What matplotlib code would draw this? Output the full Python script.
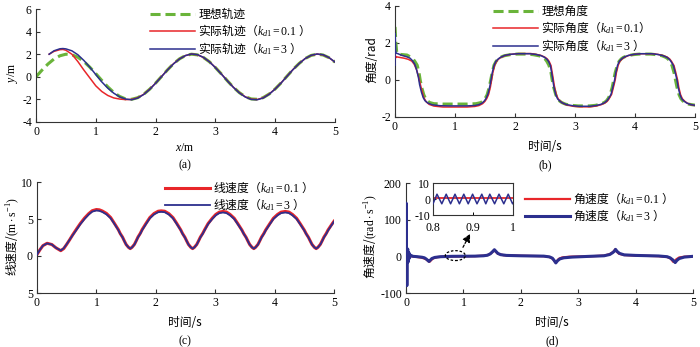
import matplotlib
matplotlib.use("Agg")
import matplotlib.pyplot as plt
from matplotlib.patches import Ellipse
from matplotlib.font_manager import FontProperties

plt.rcParams['font.family'] = ['Liberation Serif', 'Noto Sans CJK SC']
plt.rcParams['mathtext.fontset'] = 'custom'
plt.rcParams['mathtext.rm'] = 'Liberation Serif'
plt.rcParams['mathtext.it'] = 'Liberation Serif:italic'
plt.rcParams['mathtext.sf'] = 'Liberation Serif'
plt.rcParams['mathtext.bf'] = 'Liberation Serif:bold'
plt.rcParams['axes.unicode_minus'] = False

GREEN = '#6ab43a'
RED = '#e8262a'
BLUE = '#2c2f8e'

# ---------------- (a) trajectory ----------------
xa_ideal = [0, 0.1, 0.2, 0.3, 0.4, 0.5, 0.6, 0.7, 0.8, 0.9, 1.0, 1.1, 1.2, 1.3, 1.4, 1.5, 1.6, 1.7, 1.8, 1.9,
            2.0, 2.1, 2.2, 2.3, 2.4, 2.5, 2.6, 2.7, 2.8, 2.9, 3.0, 3.1, 3.2, 3.3, 3.4, 3.5, 3.6, 3.7, 3.8, 3.9,
            4.0, 4.1, 4.2, 4.3, 4.4, 4.5, 4.6, 4.7, 4.8, 4.9, 5.0]
ya_ideal = [0, 0.59, 1.13, 1.57, 1.86, 2.00, 1.95, 1.73, 1.35, 0.85, 0.28, -0.32, -0.89, -1.38, -1.74, -1.96,
            -1.99, -1.85, -1.55, -1.10, -0.56, 0.03, 0.62, 1.16, 1.59, 1.88, 2.00, 1.94, 1.71, 1.33, 0.82, 0.25,
            -0.35, -0.92, -1.40, -1.76, -1.96, -1.99, -1.84, -1.52, -1.07, -0.53, 0.07, 0.66, 1.18, 1.61, 1.89,
            2.00, 1.93, 1.69, 1.30]
xa_red = [0.22, 0.3, 0.4, 0.45, 0.5, 0.6, 0.7, 0.8, 0.9, 1.0, 1.1, 1.2, 1.3, 1.4, 1.5, 1.6, 1.7, 1.8, 1.9,
          2.0, 2.1, 2.2, 2.3, 2.4, 2.5, 2.6, 2.7, 2.8, 2.9, 3.0, 3.1, 3.2, 3.3, 3.4, 3.5, 3.6, 3.7, 3.8, 3.9,
          4.0, 4.1, 4.2, 4.3, 4.4, 4.5, 4.6, 4.7, 4.8, 4.9, 5.0]
ya_red = [2.0, 2.25, 2.4, 2.42, 2.35, 2.0, 1.35, 0.6, -0.1, -0.8, -1.3, -1.65, -1.87, -1.97, -2.02, -2.0,
          -1.86, -1.55, -1.10, -0.56, 0.03, 0.62, 1.16, 1.59, 1.88, 2.01, 1.95, 1.71, 1.33, 0.82, 0.25,
          -0.35, -0.92, -1.40, -1.77, -1.98, -2.01, -1.85, -1.52, -1.07, -0.53, 0.07, 0.66, 1.18, 1.61, 1.89,
          2.01, 1.94, 1.69, 1.30]
xa_blue = xa_red
ya_blue = [2.0, 2.3, 2.48, 2.5, 2.47, 2.3, 1.95, 1.45, 0.85, 0.2, -0.45, -1.0, -1.45, -1.78, -1.97, -2.03,
           -1.88, -1.57, -1.12, -0.57, 0.02, 0.61, 1.15, 1.58, 1.88, 2.02, 1.96, 1.72, 1.33, 0.81, 0.24,
           -0.36, -0.93, -1.42, -1.79, -2.0, -2.03, -1.87, -1.54, -1.08, -0.54, 0.06, 0.65, 1.17, 1.61, 1.90,
           2.02, 1.95, 1.70, 1.30]

# ---------------- (b) angle ----------------
tb_ideal = [0, 0.015, 0.03, 0.1, 0.2, 0.27, 0.30, 0.33, 0.37, 0.40, 0.42, 0.445, 0.48, 0.51, 0.545, 0.58, 0.65,
            0.8, 1.2, 1.35, 1.43, 1.465, 1.5, 1.535, 1.57, 1.595, 1.62, 1.65, 1.685, 1.72, 1.75, 1.82, 1.92,
            2.02, 2.2, 2.3, 2.4, 2.465, 2.5, 2.53, 2.565, 2.6, 2.62, 2.645, 2.68, 2.71, 2.745, 2.78, 2.845,
            2.945, 3.05, 3.24, 3.34, 3.42, 3.485, 3.52, 3.55, 3.585, 3.62, 3.645, 3.67, 3.705, 3.735, 3.77,
            3.805, 3.87, 3.97, 4.07, 4.26, 4.35, 4.45, 4.515, 4.55, 4.58, 4.615, 4.65, 4.675, 4.70, 4.735,
            4.765, 4.80, 4.835, 4.90, 5.0]
ab_ideal = [2.87, 2.0, 1.45, 1.38, 1.35, 1.22, 1.14, 1.01, 0.8, 0.4, 0, -0.4, -0.8, -1.01, -1.14, -1.22, -1.28,
            -1.30, -1.30, -1.28, -1.22, -1.14, -1.01, -0.8, -0.4, 0, 0.4, 0.8, 1.01, 1.14, 1.22, 1.31, 1.37,
            1.40, 1.40, 1.37, 1.31, 1.22, 1.14, 1.01, 0.8, 0.4, 0, -0.4, -0.8, -1.01, -1.14, -1.22, -1.31,
            -1.37, -1.40, -1.40, -1.37, -1.31, -1.22, -1.14, -1.01, -0.8, -0.4, 0, 0.4, 0.8, 1.01, 1.14,
            1.22, 1.31, 1.37, 1.40, 1.40, 1.37, 1.31, 1.22, 1.14, 1.01, 0.8, 0.4, 0, -0.4, -0.8,
            -1.01, -1.14, -1.22, -1.31, -1.36]
tb_blue = [0, 0.004, 0.01, 0.02, 0.05, 0.1, 0.15, 0.2, 0.25, 0.29, 0.33, 0.36, 0.39, 0.41, 0.44, 0.47, 0.5,
           0.55, 0.62, 0.75, 0.9, 1.2, 1.33, 1.4, 1.45, 1.49, 1.52, 1.55, 1.58, 1.6, 1.62, 1.65, 1.68, 1.72,
           1.76, 1.83, 1.93, 2.05, 2.25, 2.35, 2.43, 2.49, 2.53, 2.56, 2.59, 2.61, 2.63, 2.65, 2.68, 2.71,
           2.75, 2.79, 2.86, 2.96, 3.07, 3.25, 3.35, 3.43, 3.49, 3.53, 3.56, 3.6, 3.63, 3.66, 3.68, 3.71,
           3.74, 3.78, 3.82, 3.89, 3.99, 4.1, 4.28, 4.38, 4.46, 4.53, 4.57, 4.6, 4.64, 4.67, 4.7, 4.72,
           4.75, 4.78, 4.82, 4.86, 4.93, 5.0]
ab_blue = [0.8, 2.5, 1.6, 1.45, 1.42, 1.35, 1.3, 1.25, 1.18, 1.05, 0.85, 0.55, 0.15, -0.25, -0.65, -0.95,
           -1.12, -1.25, -1.34, -1.39, -1.40, -1.40, -1.38, -1.33, -1.25, -1.13, -0.98, -0.75, -0.35, 0.0,
           0.38, 0.78, 1.0, 1.14, 1.23, 1.33, 1.39, 1.42, 1.42, 1.38, 1.32, 1.23, 1.13, 1.0, 0.78, 0.4, 0.0,
           -0.4, -0.8, -1.02, -1.15, -1.24, -1.33, -1.39, -1.42, -1.42, -1.38, -1.32, -1.23, -1.13, -1.0,
           -0.78, -0.4, 0.0, 0.4, 0.8, 1.02, 1.15, 1.24, 1.33, 1.39, 1.42, 1.42, 1.38, 1.32, 1.23, 1.13,
           1.0, 0.78, 0.4, 0.0, -0.4, -0.8, -1.02, -1.15, -1.24, -1.33, -1.37]
tb_red = [0, 0.01, 0.03, 0.08, 0.15, 0.22, 0.28, 0.32, 0.36, 0.39, 0.42, 0.45, 0.48, 0.52, 0.57, 0.65, 0.8,
          1.2, 1.33, 1.4, 1.46, 1.5, 1.53, 1.56, 1.59, 1.61, 1.63, 1.66, 1.69, 1.73, 1.77, 1.84, 1.94, 2.06,
          2.26, 2.36, 2.44, 2.5, 2.54, 2.57, 2.6, 2.62, 2.64, 2.66, 2.69, 2.72, 2.76, 2.8, 2.87, 2.97, 3.08,
          3.26, 3.36, 3.44, 3.5, 3.54, 3.57, 3.61, 3.64, 3.67, 3.69, 3.72, 3.75, 3.79, 3.83, 3.9, 4.0, 4.11,
          4.29, 4.39, 4.47, 4.54, 4.58, 4.61, 4.65, 4.68, 4.71, 4.73, 4.76, 4.79, 4.83, 4.87, 4.94, 5.0]
ab_red = [1.5, 1.2, 1.25, 1.22, 1.18, 1.12, 1.02, 0.85, 0.55, 0.2, -0.2, -0.6, -0.95, -1.18, -1.32, -1.41,
          -1.46, -1.46, -1.43, -1.38, -1.28, -1.15, -1.0, -0.78, -0.38, 0.0, 0.38, 0.78, 1.0, 1.14, 1.23,
          1.33, 1.39, 1.43, 1.43, 1.38, 1.32, 1.23, 1.13, 1.0, 0.78, 0.4, 0.0, -0.4, -0.8, -1.02, -1.16,
          -1.26, -1.36, -1.42, -1.45, -1.45, -1.40, -1.33, -1.24, -1.14, -1.0, -0.78, -0.4, 0.0, 0.4, 0.8,
          1.02, 1.15, 1.24, 1.33, 1.39, 1.42, 1.42, 1.38, 1.32, 1.23, 1.13, 1.0, 0.78, 0.4, 0.0, -0.4,
          -0.8, -1.02, -1.15, -1.25, -1.34, -1.38]

# ---------------- (c) linear speed ----------------
tc = [0, 0.05, 0.1, 0.17, 0.25, 0.32, 0.4, 0.45, 0.5, 0.55, 0.6, 0.67, 0.73, 0.8, 0.87, 0.93, 1.0,
      1.05, 1.10, 1.17, 1.24, 1.30, 1.37, 1.40, 1.44, 1.47, 1.50, 1.54, 1.57,
      1.60, 1.64, 1.67, 1.70, 1.74, 1.77, 1.84, 1.90, 1.97, 2.04, 2.09,
      2.15, 2.22, 2.29, 2.35, 2.42, 2.45, 2.49, 2.52, 2.55, 2.59, 2.62,
      2.65, 2.69, 2.72, 2.75, 2.79, 2.82, 2.88, 2.95, 3.01, 3.07, 3.13,
      3.19, 3.25, 3.32, 3.38, 3.45, 3.48, 3.52, 3.55, 3.58, 3.62, 3.65,
      3.68, 3.72, 3.75, 3.78, 3.82, 3.85, 3.92, 3.98, 4.05, 4.11, 4.18,
      4.24, 4.30, 4.37, 4.43, 4.50, 4.53, 4.57, 4.60, 4.63, 4.67, 4.70,
      4.73, 4.77, 4.80, 4.83, 4.87, 4.90, 4.97, 5.0]
vc_blue = [0.2, 0.85, 1.4, 1.7, 1.55, 1.1, 0.75, 1.05, 1.6, 2.2, 2.8, 3.6, 4.3, 5.0, 5.6, 6.0, 6.15,
           6.1, 5.95, 5.62, 5.1, 4.38, 3.5, 3.02, 2.52, 2.02, 1.55, 1.17, 1.0,
           1.17, 1.55, 2.02, 2.52, 3.02, 3.5, 4.38, 5.1, 5.62, 5.92, 5.97,
           5.92, 5.6, 5.08, 4.36, 3.48, 3.0, 2.5, 2.02, 1.55, 1.17, 1.0,
           1.17, 1.55, 2.02, 2.5, 3.0, 3.45, 4.3, 5.0, 5.5, 5.8, 5.88,
           5.8, 5.5, 5.0, 4.3, 3.45, 3.0, 2.5, 2.02, 1.55, 1.17, 1.0,
           1.17, 1.55, 2.02, 2.5, 3.0, 3.45, 4.3, 5.0, 5.5, 5.8, 5.88,
           5.8, 5.5, 5.0, 4.3, 3.45, 3.0, 2.5, 2.02, 1.55, 1.17, 1.0,
           1.17, 1.55, 2.02, 2.5, 3.0, 3.45, 4.3, 4.65]
vc_red = [0.2, 0.85, 1.4, 1.72, 1.55, 1.1, 0.72, 1.0, 1.58, 2.2, 2.85, 3.7, 4.4, 5.12, 5.72, 6.12, 6.28,
          6.24, 6.08, 5.75, 5.2, 4.45, 3.55, 3.05, 2.55, 2.04, 1.56, 1.17, 1.0,
          1.18, 1.57, 2.05, 2.56, 3.08, 3.57, 4.47, 5.2, 5.74, 6.05, 6.1,
          6.05, 5.72, 5.18, 4.44, 3.53, 3.04, 2.53, 2.03, 1.56, 1.17, 1.0,
          1.18, 1.57, 2.05, 2.55, 3.06, 3.52, 4.38, 5.1, 5.62, 5.93, 6.02,
          5.94, 5.62, 5.1, 4.38, 3.5, 3.03, 2.52, 2.03, 1.56, 1.17, 1.0,
          1.18, 1.57, 2.05, 2.55, 3.06, 3.52, 4.38, 5.1, 5.62, 5.93, 6.02,
          5.94, 5.62, 5.1, 4.38, 3.5, 3.03, 2.52, 2.03, 1.56, 1.17, 1.0,
          1.18, 1.57, 2.05, 2.55, 3.06, 3.52, 4.36, 4.7]

# ---------------- (d) angular speed ----------------
td_blue = [0, 0.003, 0.008, 0.015, 0.022, 0.03, 0.04, 0.05, 0.06, 0.08, 0.12, 0.2, 0.28, 0.32, 0.35, 0.38,
           0.40, 0.42, 0.45, 0.5, 0.6, 0.8, 1.2, 1.35, 1.42, 1.47, 1.51, 1.54, 1.57, 1.6, 1.65, 1.75, 2.0,
           2.4, 2.5, 2.55, 2.58, 2.61, 2.64, 2.68, 2.75, 2.9, 3.2, 3.45, 3.55, 3.6, 3.63, 3.65, 3.68, 3.72,
           3.8, 4.0, 4.4, 4.55, 4.6, 4.65, 4.69, 4.72, 4.76, 4.85, 5.0]
wd_blue = [0, 145, 10, -80, 5, 20, -15, 10, -5, 3, 0, -1, -2.5, -4, -7, -11, -14, -11, -6, -3, -1, 0, 0.5,
           1.5, 3, 7, 13, 18, 13, 8, 4.5, 2.5, 1.5, 0.5, -1.5, -5, -11, -18, -12, -7, -4, -2, 0, 1.5, 5, 10,
           14, 19, 13, 8, 4, 2.5, 1, -1, -4, -10, -17, -11, -6, -2, 0]
td_red = [0, 0.01, 0.02, 0.1, 0.25, 0.3, 0.35, 0.38, 0.41, 0.44, 0.48, 0.55, 0.7, 1.2, 1.38, 1.45, 1.5,
          1.535, 1.56, 1.6, 1.7, 2.0, 2.4, 2.5, 2.56, 2.6, 2.63, 2.66, 2.72, 2.85, 3.2, 3.45, 3.55, 3.61,
          3.645, 3.67, 3.71, 3.8, 4.0, 4.4, 4.55, 4.61, 4.655, 4.685, 4.71, 4.76, 4.85, 5.0]
wd_red = [10, 5, 2, 0, -3, -5, -8, -12, -15, -10, -5, -2, -0.5, 0.5, 2, 5, 11, 17, 13, 7, 3, 1.5, 0.5,
          -2, -7, -16, -13, -7, -3, -1, 0, 2, 6, 12, 19, 13, 7, 3.5, 2, 0.5, -2, -6, -15, -12, -8, -3, -1, 0]

# inset zoom (0.8 - 1.0)
ti_blue = [0.8, 0.810, 0.822, 0.833, 0.844, 0.855, 0.866, 0.877, 0.888, 0.899, 0.910, 0.922, 0.932,
           0.942, 0.954, 0.965, 0.977, 0.988, 0.999, 1.0]
wi_blue = [-3, 3, -3, 3, -3, 3, -3, 3, -3, 3, -3, 3, -3, 3, -3, 3, -3, 3, -3, -2.5]
ti_red = [0.8, 1.0]
wi_red = [0.5, 0.5]

# tick labels
yticks_c = [-5, 0, 5, 10]
yticklabels_c = ['5', '0', '5', '10']

labels_a = ['理想轨迹', r'实际轨迹（$k_{d\mathsf{1}}\mathsf{=0.1}$ ）', r'实际轨迹（$k_{d\mathsf{1}}\mathsf{=3}$ ）']
labels_b = ['理想角度', r'实际角度（$k_{d\mathsf{1}}\mathsf{=0.1}$）', r'实际角度（$k_{d\mathsf{1}}\mathsf{=3}$ ）']
labels_c = [r'线速度（$k_{d\mathsf{1}}\mathsf{=0.1}$ ）', r'线速度（$k_{d\mathsf{1}}\mathsf{=3}$ ）']
labels_d = [r'角速度（$k_{d\mathsf{1}}\mathsf{=0.1}$ ）', r'角速度（$k_{d\mathsf{1}}\mathsf{=3}$ ）']

FS = 8.5
CJK = FontProperties(family='Noto Sans CJK SC', size=FS)
W, H = 700, 347
fig = plt.figure(figsize=(7.0, 3.47), dpi=100)


def rect(l, t, r, b):
    return [l / W, 1 - b / H, (r - l) / W, (b - t) / H]


def style(ax):
    for s in ['top', 'right']:
        ax.spines[s].set_visible(False)
    for s in ['left', 'bottom']:
        ax.spines[s].set_linewidth(0.8)
        ax.spines[s].set_color('#333333')
    ax.tick_params(direction='in', length=3, width=0.8, labelsize=FS, colors='#333333',
                   labelcolor='black', pad=3)
    ax.set_xlim(0, 5)
    ax.set_xticks([0, 1, 2, 3, 4, 5])


def legend(ax, x, y):
    ax.legend(loc='upper left', bbox_to_anchor=(x / W, 1 - y / H), bbox_transform=fig.transFigure,
              frameon=False, prop=CJK, handlelength=3.8, handletextpad=0.3, labelspacing=0.1,
              borderpad=0, borderaxespad=0)


def cjk_text(x, y, s, **kw):
    fig.text(x / W, 1 - y / H, s, fontproperties=CJK, ha='center', va='center', **kw)


# (a)
axa = fig.add_axes(rect(36, 9, 335, 122))
style(axa)
axa.plot(xa_ideal, ya_ideal, color=GREEN, lw=2.2, ls=(0, (3.3, 1.6)), label=labels_a[0], zorder=2)
axa.plot(xa_red, ya_red, color=RED, lw=1.1, label=labels_a[1], zorder=3)
axa.plot(xa_blue, ya_blue, color=BLUE, lw=1.1, label=labels_a[2], zorder=3)
axa.set_ylim(-4, 6)
axa.set_yticks([-4, -2, 0, 2, 4, 6])
legend(axa, 150, 8)
fig.text(12 / W, 1 - 73 / H, '$y$/m', rotation=90, ha='center', va='center', fontsize=FS)
fig.text(185 / W, 1 - 148 / H, '$x$/m', ha='center', va='center', fontsize=FS)
fig.text(185 / W, 1 - 165 / H, '(a)', ha='center', va='center', fontsize=FS)

# (b)
axb = fig.add_axes(rect(395, 6, 695, 117))
style(axb)
axb.plot(tb_ideal, ab_ideal, color=GREEN, lw=2.2, ls=(0, (3.3, 1.6)), label=labels_b[0], zorder=2)
axb.plot(tb_red, ab_red, color=RED, lw=1.1, label=labels_b[1], zorder=3)
axb.plot(tb_blue, ab_blue, color=BLUE, lw=1.1, label=labels_b[2], zorder=3)
axb.set_ylim(-2, 4)
axb.set_yticks([-2, 0, 2, 4])
legend(axb, 493, 5)
cjk_text(372, 60, '角度/rad', rotation=90)
cjk_text(545, 147, '时间/s')
fig.text(545 / W, 1 - 165 / H, '(b)', ha='center', va='center', fontsize=FS)

# (c)
axc = fig.add_axes(rect(37, 182, 334, 293))
style(axc)
axc.plot(tc, vc_red, color=RED, lw=2.2, label=labels_c[0], zorder=2)
axc.plot(tc, vc_blue, color=BLUE, lw=1.3, label=labels_c[1], zorder=3)
axc.set_ylim(-5, 10)
axc.set_yticks(yticks_c)
axc.set_yticklabels(yticklabels_c)
legend(axc, 165, 179)
cjk_text(12, 237, r'线速度/$\mathsf{(m\cdot s^{-1})}$', rotation=90)
cjk_text(185, 323, '时间/s')
fig.text(185 / W, 1 - 341 / H, '(c)', ha='center', va='center', fontsize=FS)

# (d)
axd = fig.add_axes(rect(406, 183, 693, 293))
style(axd)
axd.plot(td_red, wd_red, color=RED, lw=1.6, label=labels_d[0], zorder=2)
axd.plot(td_blue, wd_blue, color=BLUE, lw=2.2, label=labels_d[1], zorder=3)
axd.set_ylim(-100, 200)
axd.set_yticks([-100, 0, 100, 200])
legend(axd, 525, 190)
axd.add_patch(Ellipse((0.86, 2), 0.35, 27, fill=False, ls=(0, (2, 1.5)), lw=0.9, color='black', zorder=5))
axd.annotate('', xy=(1.14, 68), xytext=(0.97, 18),
             arrowprops=dict(arrowstyle='-|>', ls=(0, (2, 1.5)), lw=0.9, color='black',
                             mutation_scale=12), zorder=5)
cjk_text(370, 237, r'角速度/$\mathsf{(rad\cdot s^{-1})}$', rotation=90)
cjk_text(552, 322, '时间/s')
fig.text(552 / W, 1 - 341 / H, '(d)', ha='center', va='center', fontsize=FS)

# inset
axi = fig.add_axes(rect(433, 183, 513, 215))
axi.plot(ti_red, wi_red, color=RED, lw=1.3, zorder=2)
axi.plot(ti_blue, wi_blue, color=BLUE, lw=1.1, zorder=3)
axi.set_xlim(0.8, 1.0)
axi.set_ylim(-10, 10)
axi.set_xticks([0.8, 0.9, 1.0])
axi.set_xticklabels(['0.8', '0.9', '1'])
axi.set_yticks([-10, 0, 10])
axi.tick_params(direction='in', length=2.5, width=0.7, labelsize=FS, pad=2)
axi.tick_params(axis='x', pad=5)
for s in axi.spines.values():
    s.set_linewidth(0.8)
    s.set_color('#333333')

fig.savefig('out.png', dpi=100)
